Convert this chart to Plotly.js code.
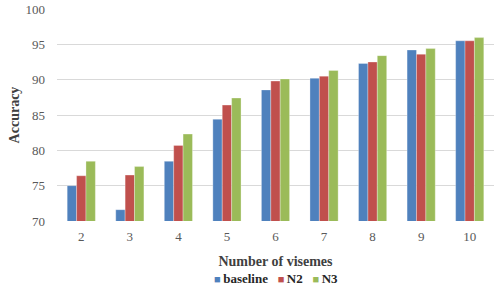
<!DOCTYPE html>
<html>
<head>
<meta charset="utf-8">
<script src="https://cdn.plot.ly/plotly-3.0.1.min.js"></script>
<style>html,body{margin:0;padding:0;background:#fff;}#chart{width:494px;height:289px;}</style>
</head>
<body>
<div id="chart"></div>
<script>
const categories = ['2','3','4','5','6','7','8','9','10'];
const baseline = [75.0, 71.6, 78.45, 84.4, 88.55, 90.2, 92.3, 94.2, 95.5];
const n2 = [76.4, 76.5, 80.7, 86.4, 89.8, 90.5, 92.5, 93.6, 95.5];
const n3 = [78.45, 77.7, 82.3, 87.4, 90.1, 91.3, 93.4, 94.4, 95.95];
const seriesNames = ['baseline', 'N2', 'N3'];
const colors = ['#4F81BD', '#C0504D', '#9BBB59'];

const serif = "'Liberation Serif', 'Times New Roman', serif";
const data = [baseline, n2, n3].map((vals, i) => ({
  type: 'bar',
  x: categories,
  y: vals,
  name: seriesNames[i],
  marker: {color: colors[i], line: {color: 'rgba(255,255,255,0.5)', width: 0.6}}
}));

const legendText = seriesNames.map((n, i) =>
  `<span style="color:${colors[i]};font-size:11px">■</span><span style="font-size:10px">&nbsp;</span><b>${n}</b>`).join('&nbsp;&nbsp;&nbsp;');

const layout = {
  width: 494, height: 289,
  margin: {l: 57, r: 0, t: 9, b: 68, autoexpand: false},
  paper_bgcolor: '#fff', plot_bgcolor: '#fff',
  barmode: 'group',
  bargap: 0.42,
  bargroupgap: 0,
  showlegend: false,
  annotations: [{
    xref: 'paper', yref: 'paper', x: 0.5, xanchor: 'center', y: -0.272, yanchor: 'middle',
    showarrow: false, text: legendText,
    font: {family: serif, size: 13, color: '#262626'}
  }],
  xaxis: {
    type: 'category',
    tickfont: {family: serif, size: 13, color: '#595959'},
    showgrid: false, showline: false, ticks: '', zeroline: false,
    ticklabelstandoff: 6,
    title: {text: '<b>Number of visemes</b>', font: {family: serif, size: 14, color: '#404040'}, standoff: 13}
  },
  yaxis: {
    range: [70, 100],
    dtick: 5,
    tick0: 70,
    tickfont: {family: serif, size: 13, color: '#595959'},
    gridcolor: '#d9d9d9', gridwidth: 1,
    showline: false, zeroline: false, ticks: '',
    ticklabelstandoff: 11,
    title: {text: '<b>Accuracy</b>', font: {family: serif, size: 14, color: '#404040'}, standoff: 2}
  }
};

Plotly.newPlot('chart', data, layout, {displayModeBar: false, staticPlot: true});
</script>
</body>
</html>
